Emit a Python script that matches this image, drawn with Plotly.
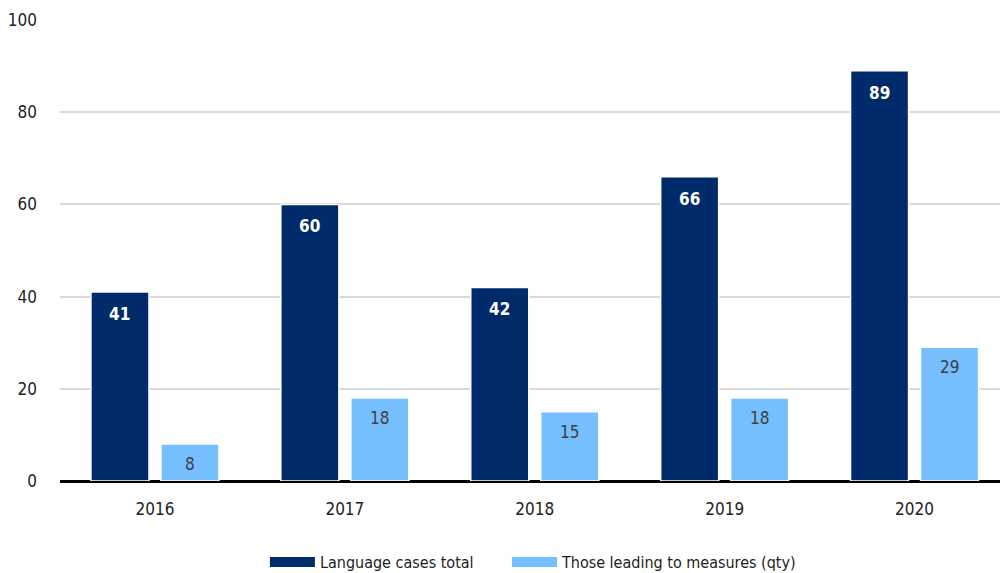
import plotly.graph_objects as go

years = ["2016", "2017", "2018", "2019", "2020"]
total_cases = [41, 60, 42, 66, 89]
measures = [8, 18, 15, 18, 29]
series_names = ["Language cases total", "Those leading to measures (qty)"]
colors = ["#002b6b", "#75bfff"]
y_ticks = [0, 20, 40, 60, 80, 100]

FONT = "DejaVu Sans Condensed, Liberation Sans Narrow, Roboto, sans-serif"

fig = go.Figure()
fig.add_trace(go.Bar(
    x=years, y=total_cases, name=series_names[0], showlegend=False,
    marker=dict(color=colors[0], line=dict(color="white", width=1.5)),
))
fig.add_trace(go.Bar(
    x=years, y=measures, name=series_names[1], showlegend=False,
    marker=dict(color=colors[1], line=dict(color="white", width=1.5)),
))
# value labels near the top inside each bar
for i, v in enumerate(total_cases):
    fig.add_annotation(x=i, y=v, text=str(v), showarrow=False, xshift=-35, yshift=-22,
                       font=dict(family=FONT, size=17, color="white", weight="bold"))
for i, v in enumerate(measures):
    fig.add_annotation(x=i, y=v, text=str(v), showarrow=False, xshift=35, yshift=-20,
                       font=dict(family=FONT, size=17, color="#404040"))
# legend-only entries with wide rectangular swatches, one legend each
for name, col, lg in zip(series_names, colors, ["legend", "legend2"]):
    fig.add_trace(go.Scatter(
        x=[None], y=[None], mode="lines", name=name, legend=lg,
        line=dict(color=col, width=10), showlegend=True,
    ))

legend_common = dict(orientation="h", y=-0.1757, yanchor="middle", xanchor="left",
                     font=dict(family=FONT, size=16, color="#222222"),
                     itemwidth=45, bgcolor="rgba(0,0,0,0)")

fig.update_layout(
    width=1000, height=573,
    margin=dict(l=60, r=0, t=20, b=92, autoexpand=False),
    paper_bgcolor="white", plot_bgcolor="white",
    barmode="group", bargap=0.263, bargroupgap=0.171,
    font=dict(family=FONT, size=17, color="#222222"),
    showlegend=True,
    legend=dict(x=0.218, **legend_common),
    legend2=dict(x=0.4755, **legend_common),
)
fig.update_xaxes(type="category", range=[-0.5, 4.45], showgrid=False, ticks="", showline=False,
                 automargin=False, ticklabelstandoff=16,
                 tickfont=dict(family=FONT, size=17, color="#222222"))
fig.update_yaxes(range=[0, 100], tickvals=y_ticks, showgrid=True, gridcolor="#d9d9d9",
                 gridwidth=2, zeroline=True, zerolinecolor="black", zerolinewidth=3,
                 ticks="", ticklabelstandoff=22, automargin=False,
                 tickfont=dict(family=FONT, size=17, color="#222222"))

fig.write_html("out.html", config={"displayModeBar": False},
               post_script="document.body.style.margin='0px';")
